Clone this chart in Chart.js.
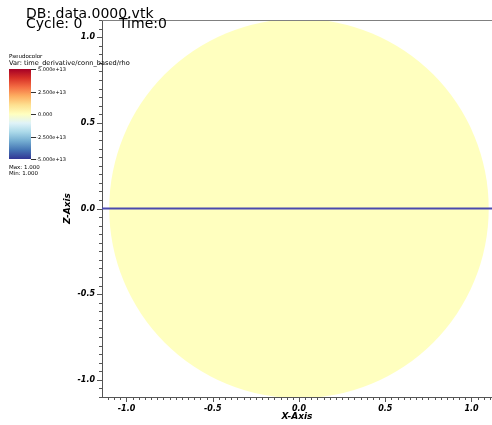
<!DOCTYPE html>
<html>
<head>
<meta charset="utf-8">
<script src="https://cdn.jsdelivr.net/npm/chart.js@4.4.0/dist/chart.umd.min.js"></script>
<style>
  html, body { margin: 0; padding: 0; background: #fff; }
</style>
</head>
<body>
<canvas id="plot" width="492" height="425"></canvas>
<script>
// database / time info
var dbName = 'data.0000.vtk';
var cycle = 0;
var time = 0;

// pseudocolor variable and its legend
var varName = 'time_derivative/conn_based/rho';
var varMax = 1.0;
var varMin = 1.0;
var legendValues = [5e13, 2.5e13, 0, -2.5e13, -5e13];
var legendLabels = ['5.000e+13', '2.500e+13', '0.000', '-2.500e+13', '-5.000e+13'];
// RdYlBu, high (top) to low (bottom)
var legendColors = ['#a50026', '#d73027', '#f46d43', '#fdae61', '#fee090', '#ffffbf',
                    '#e0f3f8', '#abd9e9', '#74add1', '#4575b4', '#313695'];

// mesh: a disc holding the value 1.0, and the z = 0 line
var discX = [0];
var discZ = [0];
var discRadius = 1.1;
var discValue = 1.0;
var lineX = [-1.142, 1.119];
var lineZ = [0, 0];

// axes
var xLimits = [-1.142, 1.119];
var zLimits = [-1.1, 1.1];
var xMinorStep = 0.5 / 14;
var zMinorStep = 0.05;
var majorStep = 0.5;

function isMajor(v) {
  var q = v / majorStep;
  return Math.abs(q - Math.round(q)) < 1e-6;
}

function tickLabel(v) {
  return isMajor(v) ? (Math.round(v * 10) / 10).toFixed(1) : '';
}

// pick the colour table entry for a value
function colorFor(v) {
  var hi = legendValues[0], lo = legendValues[legendValues.length - 1];
  var t = (hi - v) / (hi - lo);
  t = Math.min(1, Math.max(0, t));
  return legendColors[Math.round(t * (legendColors.length - 1))];
}

var tickFont = { family: 'DejaVu Sans', size: 8, style: 'italic', weight: 'bold' };
var titleFont = { family: 'DejaVu Sans', size: 9, style: 'italic', weight: 'bold' };

// the disc is a single point whose radius is the data radius in pixels
var discSize = {
  id: 'discSize',
  beforeDatasetsUpdate: function (chart) {
    var s = chart.scales.x;
    var r = Math.abs(s.getPixelForValue(discRadius) - s.getPixelForValue(0));
    var ds = chart.data.datasets[1];
    ds.pointRadius = r;
    ds.pointHoverRadius = r;
  }
};

var annotations = {
  id: 'annotations',
  afterDraw: function (chart) {
    var c = chart.ctx, area = chart.chartArea;
    var xs = chart.scales.x, ys = chart.scales.y;
    c.save();

    // top edge of the frame
    c.strokeStyle = '#808080';
    c.lineWidth = 1;
    c.beginPath();
    c.moveTo(area.left, Math.round(area.top) + 0.5);
    c.lineTo(area.right, Math.round(area.top) + 0.5);
    c.stroke();

    // major / minor tick marks
    c.strokeStyle = '#555';
    ys.ticks.forEach(function (t) {
      var py = Math.round(ys.getPixelForValue(t.value)) + 0.5;
      var len = isMajor(t.value) ? 5 : 3;
      c.beginPath();
      c.moveTo(area.left - len, py);
      c.lineTo(area.left, py);
      c.stroke();
    });
    xs.ticks.forEach(function (t) {
      var px = Math.round(xs.getPixelForValue(t.value)) + 0.5;
      var len = isMajor(t.value) ? 5 : 3;
      c.beginPath();
      c.moveTo(px, area.bottom);
      c.lineTo(px, area.bottom + len);
      c.stroke();
    });

    // database, cycle and time
    c.fillStyle = '#000';
    c.textBaseline = 'alphabetic';
    c.textAlign = 'left';
    c.font = '14px "DejaVu Sans"';
    c.fillText('DB: ' + dbName, 26, 18);
    c.fillText('Cycle: ' + cycle, 26, 28);
    c.fillText('Time:' + time, 119, 28);

    // pseudocolor legend
    c.font = '5.5px "DejaVu Sans"';
    c.fillText('Pseudocolor', 9, 58);
    c.font = '6.6px "DejaVu Sans"';
    c.fillText('Var: ' + varName, 9, 65);

    var barLeft = 9, barTop = 69, barW = 22, barH = 90;
    var grad = c.createLinearGradient(0, barTop, 0, barTop + barH);
    legendColors.forEach(function (col, i) {
      grad.addColorStop(i / (legendColors.length - 1), col);
    });
    c.fillStyle = grad;
    c.fillRect(barLeft, barTop, barW, barH);

    var hi = legendValues[0], lo = legendValues[legendValues.length - 1];
    c.fillStyle = '#000';
    c.strokeStyle = '#333';
    c.font = '5px "DejaVu Sans"';
    c.textBaseline = 'middle';
    legendValues.forEach(function (v, i) {
      var py = Math.round(barTop + (hi - v) / (hi - lo) * barH) + 0.5;
      c.beginPath();
      c.moveTo(barLeft + barW, py);
      c.lineTo(barLeft + barW + 5, py);
      c.stroke();
      var label = legendLabels[i];
      var lx = barLeft + barW + 7;
      if (label.charAt(0) === '-') lx -= c.measureText('-').width;
      c.fillText(label, lx, py);
    });

    c.font = '5.5px "DejaVu Sans"';
    c.textBaseline = 'alphabetic';
    c.fillText('Max: ' + varMax.toFixed(3), 9, 169);
    c.fillText('Min: ' + varMin.toFixed(3), 9, 175);

    c.restore();
  }
};

var ctx = document.getElementById('plot').getContext('2d');
var chart = new Chart(ctx, {
  type: 'scatter',
  data: {
    datasets: [{
      type: 'line',
      order: 0,
      data: lineX.map(function (x, i) { return { x: x, y: lineZ[i] }; }),
      borderColor: '#4a4aae',
      borderWidth: 2,
      pointRadius: 0,
      fill: false
    }, {
      type: 'scatter',
      order: 1,
      data: discX.map(function (x, i) { return { x: x, y: discZ[i] }; }),
      pointBackgroundColor: colorFor(discValue),
      backgroundColor: colorFor(discValue),
      pointBorderWidth: 0,
      borderWidth: 0,
      pointRadius: 0
    }]
  },
  options: {
    responsive: false,
    animation: false,
    devicePixelRatio: 1,
    events: [],
    layout: { padding: { top: 20, right: 0, bottom: 0, left: 0 } },
    plugins: { legend: { display: false }, tooltip: { enabled: false } },
    scales: {
      x: {
        type: 'linear',
        position: 'bottom',
        min: xLimits[0],
        max: xLimits[1],
        afterFit: function (s) { s.height = 28; s.paddingLeft = 0; s.paddingRight = 0; },
        grid: { drawOnChartArea: false, drawTicks: false },
        border: { color: '#555', width: 1 },
        ticks: {
          stepSize: xMinorStep,
          includeBounds: false,
          autoSkip: false,
          maxRotation: 0,
          padding: 7,
          color: '#000',
          font: tickFont,
          callback: tickLabel
        },
        title: { display: true, text: 'X-Axis', color: '#000', font: titleFont, padding: { top: 0, bottom: 2.5 } }
      },
      y: {
        type: 'linear',
        position: 'left',
        min: zLimits[0],
        max: zLimits[1],
        afterFit: function (s) { s.width = 102; s.paddingTop = 0; s.paddingBottom = 0; },
        grid: { drawOnChartArea: false, drawTicks: false },
        border: { color: '#555', width: 1 },
        ticks: {
          stepSize: zMinorStep,
          autoSkip: false,
          padding: 7,
          color: '#000',
          font: tickFont,
          callback: tickLabel
        },
        title: { display: true, text: 'Z-Axis', color: '#000', font: titleFont, padding: { top: 62, bottom: 0 } }
      }
    }
  },
  plugins: [discSize, annotations]
});
</script>
</body>
</html>
